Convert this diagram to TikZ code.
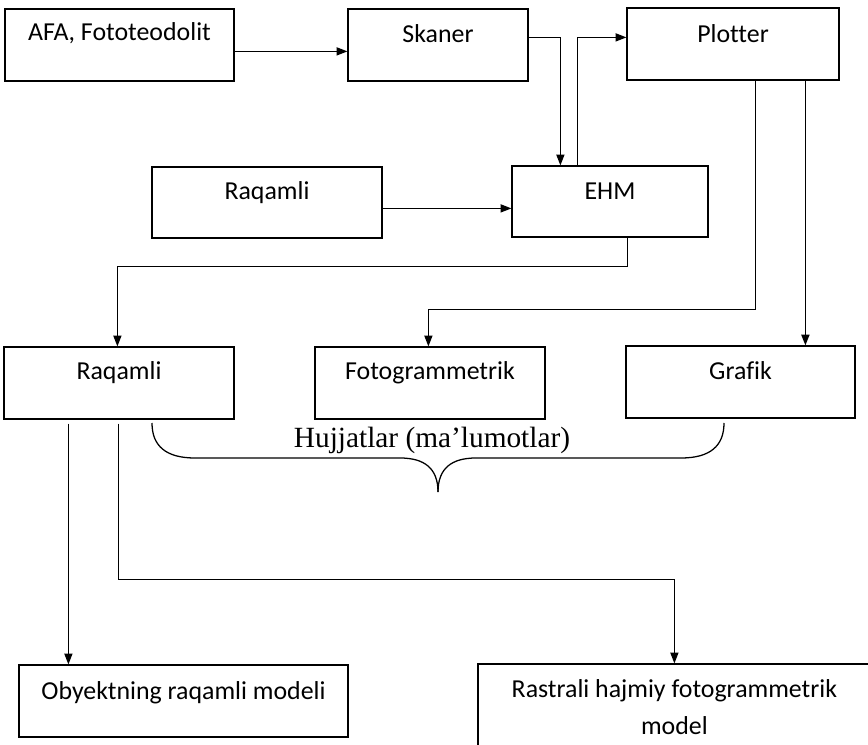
\documentclass[tikz,border=0pt]{standalone}
\usepackage{fontspec}
\setmainfont[Ligatures={NoCommon}]{Carlito}
\newfontfamily\serifcap{Liberation Serif}
\usetikzlibrary{arrows.meta,calc,fit}

\begin{document}
\begin{tikzpicture}[x=0.75pt,y=-0.75pt,
  box/.style={draw, line width=0.9pt, inner sep=0pt, fit={#1}},
  txt/.style={font=\fontsize{19.4}{23}\selectfont, anchor=center},
  arr/.style={line width=0.95pt, -{Triangle[length=8pt,width=6pt]}},
  brc/.style={line width=0.95pt}]
\useasboundingbox (0,0) rectangle (868,745);
\clip (0,0) rectangle (868,745);

% boxes
\node[box={(5,9) (234,81)}]    (afa) {};
\node[box={(348,9) (528,81)}]  (sk)  {};
\node[box={(627,8) (839,80)}]  (pl)  {};
\node[box={(152,167) (382,238)}] (rq) {};
\node[box={(512,166) (708,237)}] (ehm) {};
\node[box={(4,347) (234,419)}]  (rl) {};
\node[box={(315,347) (545,419)}] (fg) {};
\node[box={(626,346) (855,418)}] (gr) {};
\node[box={(19,665) (348,737)}] (ob) {};
\node[box={(478,664) (872,760)}] (ra) {};

% box texts
\node[txt] (tafa) at ($(afa.north)+(0,25)$) {AFA, Fototeodolit};
\node[txt] (tsk)  at ($(sk.north)+(0,25)$)  {Skaner};
\node[txt] (tpl)  at ($(pl.north)+(0,26)$)  {Plotter};
\node[txt] (trq)  at ($(rq.north)+(0,26)$)  {Raqamli};
\node[txt] (tehm) at ($(ehm.north)+(0,26)$) {EHM};
\node[txt] (trl)  at ($(rl.north)+(0,26)$)  {Raqamli};
\node[txt] (tfg)  at ($(fg.north)+(0,26)$)  {Fotogrammetrik};
\node[txt] (tgr)  at ($(gr.north)+(0,25)$)  {Grafik};
\node[txt] (tob)  at ($(ob.north)+(0,28)$)  {Obyektning raqamli modeli};
\node[txt] (tra1) at ($(ra.north west)+(197,27)$) {Rastrali hajmiy fotogrammetrik};
\node[txt] (tra2) at ($(ra.north west)+(197,62)$) {model};

% connectors
\coordinate (c1) at ($(afa.north east)+(0,43)$);
\draw[arr] (c1) -- (c1 -| sk.west);

\draw[arr] ($(sk.north east)+(0,29)$) -| ($(ehm.north west)+(49,0)$);
\draw[arr] ($(ehm.north west)+(66,0)$) |- ($(pl.north west)+(0,30)$);

\coordinate (c2) at ($(rq.north east)+(0,42)$);
\draw[arr] (c2) -- (c2 -| ehm.west);

\draw[arr] ($(ehm.south west)+(116,0)$) -- ++(0,29) -| ($(rl.north west)+(114,0)$);
\draw[arr] ($(pl.south west)+(129,0)$) -- ++(0,229) -| ($(fg.north west)+(114,0)$);

\coordinate (c3) at ($(pl.south west)+(179,0)$);
\draw[arr, line width=1.3pt] (c3) -- (c3 |- gr.north);

\coordinate (c4) at ($(rl.south west)+(65,4)$);
\draw[arr] (c4) -- (c4 |- ob.north);

\draw[arr] ($(rl.south west)+(115,4)$) -- ++(0,156) -| ($(ra.north west)+(197,0)$);

% brace under the document boxes
\draw[brc] (152,423) .. controls (152,446) and (166,458) .. (195,458) -- (400,458)
  .. controls (424,458) and (438,468) .. (438,492);
\draw[brc] (724,423) .. controls (724,446) and (710,458) .. (681,458) -- (476,458)
  .. controls (452,458) and (438,468) .. (438,492);
\node[font=\serifcap\fontsize{22}{26}\selectfont, anchor=base] (hj) at (432,447) {Hujjatlar (ma’lumotlar)};
\end{tikzpicture}
\end{document}
